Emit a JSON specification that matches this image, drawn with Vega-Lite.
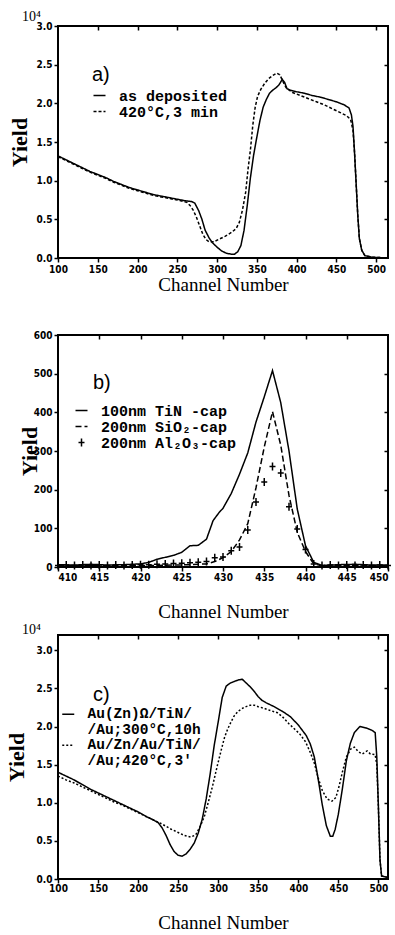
{
"$schema": "https://vega.github.io/schema/vega-lite/v6.json",
"padding": {"left": 4, "top": 9, "right": 5, "bottom": 0},
"spacing": 0,
"resolve": {"scale": {"strokeDash": "independent"}, "legend": {"strokeDash": "independent"}},
"config": {
  "view": {"stroke": "black", "strokeWidth": 2},
  "axis": {"domain": false, "grid": false, "tickColor": "black", "tickSize": 4, "tickWidth": 1.5, "labelFont": "Liberation Sans Narrow, DejaVu Sans Condensed, sans-serif", "labelFontWeight": "bold", "labelFontSize": 10, "labelColor": "black", "labelFlush": false, "labelOverlap": false, "titleColor": "black", "titleFont": "Liberation Serif", "titleFontSize": 19, "titleFontWeight": "normal"},
  "axisY": {"titleFontWeight": "bold", "titleFontSize": 22},
  "legend": {"labelFont": "Liberation Mono", "labelFontWeight": "bold", "labelFontSize": 15, "labelColor": "black", "labelLimit": 0, "titleFont": "Liberation Sans", "titleFontSize": 20, "titleFontWeight": "normal", "titleColor": "black", "symbolStrokeColor": "black", "symbolStrokeWidth": 1.5, "symbolSize": 144, "symbolType": "stroke", "rowPadding": 0, "padding": 0},
  "title": {"font": "Liberation Serif", "fontSize": 14, "fontWeight": "normal", "color": "black", "anchor": "start", "frame": "group", "dx": -36}
},
"vconcat": [
{
  "width": 330, "height": 232,
  "title": {"text": "10⁴", "offset": -3},
  "data": {"values": [
    {"ch":100,"y":1.32,"s":"as deposited"},{"ch":110,"y":1.27,"s":"as deposited"},{"ch":120,"y":1.22,"s":"as deposited"},{"ch":130,"y":1.17,"s":"as deposited"},{"ch":140,"y":1.12,"s":"as deposited"},{"ch":150,"y":1.08,"s":"as deposited"},{"ch":160,"y":1.04,"s":"as deposited"},{"ch":170,"y":0.99,"s":"as deposited"},{"ch":180,"y":0.95,"s":"as deposited"},{"ch":190,"y":0.91,"s":"as deposited"},{"ch":200,"y":0.88,"s":"as deposited"},{"ch":210,"y":0.85,"s":"as deposited"},{"ch":220,"y":0.82,"s":"as deposited"},{"ch":230,"y":0.80,"s":"as deposited"},{"ch":240,"y":0.78,"s":"as deposited"},{"ch":250,"y":0.76,"s":"as deposited"},{"ch":260,"y":0.74,"s":"as deposited"},{"ch":268,"y":0.73,"s":"as deposited"},{"ch":272,"y":0.71,"s":"as deposited"},{"ch":277,"y":0.61,"s":"as deposited"},{"ch":281,"y":0.50,"s":"as deposited"},{"ch":285,"y":0.36,"s":"as deposited"},{"ch":290,"y":0.26,"s":"as deposited"},{"ch":294,"y":0.20,"s":"as deposited"},{"ch":300,"y":0.14,"s":"as deposited"},{"ch":306,"y":0.09,"s":"as deposited"},{"ch":312,"y":0.06,"s":"as deposited"},{"ch":318,"y":0.05,"s":"as deposited"},{"ch":322,"y":0.05,"s":"as deposited"},{"ch":326,"y":0.08,"s":"as deposited"},{"ch":330,"y":0.16,"s":"as deposited"},{"ch":334,"y":0.36,"s":"as deposited"},{"ch":338,"y":0.68,"s":"as deposited"},{"ch":342,"y":1.04,"s":"as deposited"},{"ch":346,"y":1.33,"s":"as deposited"},{"ch":350,"y":1.56,"s":"as deposited"},{"ch":354,"y":1.78,"s":"as deposited"},{"ch":358,"y":1.95,"s":"as deposited"},{"ch":362,"y":2.05,"s":"as deposited"},{"ch":366,"y":2.13,"s":"as deposited"},{"ch":370,"y":2.17,"s":"as deposited"},{"ch":374,"y":2.20,"s":"as deposited"},{"ch":378,"y":2.24,"s":"as deposited"},{"ch":382,"y":2.31,"s":"as deposited"},{"ch":385,"y":2.27,"s":"as deposited"},{"ch":388,"y":2.19,"s":"as deposited"},{"ch":392,"y":2.17,"s":"as deposited"},{"ch":400,"y":2.15,"s":"as deposited"},{"ch":410,"y":2.13,"s":"as deposited"},{"ch":420,"y":2.10,"s":"as deposited"},{"ch":430,"y":2.08,"s":"as deposited"},{"ch":440,"y":2.05,"s":"as deposited"},{"ch":450,"y":2.02,"s":"as deposited"},{"ch":460,"y":1.98,"s":"as deposited"},{"ch":466,"y":1.94,"s":"as deposited"},{"ch":469,"y":1.85,"s":"as deposited"},{"ch":471,"y":1.70,"s":"as deposited"},{"ch":473,"y":1.35,"s":"as deposited"},{"ch":475,"y":0.95,"s":"as deposited"},{"ch":477,"y":0.55,"s":"as deposited"},{"ch":479,"y":0.25,"s":"as deposited"},{"ch":482,"y":0.10,"s":"as deposited"},{"ch":486,"y":0.03,"s":"as deposited"},{"ch":495,"y":0.01,"s":"as deposited"},{"ch":515,"y":0.0,"s":"as deposited"},
    {"ch":100,"y":1.31,"s":"420°C,3 min"},{"ch":110,"y":1.26,"s":"420°C,3 min"},{"ch":120,"y":1.21,"s":"420°C,3 min"},{"ch":130,"y":1.16,"s":"420°C,3 min"},{"ch":140,"y":1.11,"s":"420°C,3 min"},{"ch":150,"y":1.07,"s":"420°C,3 min"},{"ch":160,"y":1.03,"s":"420°C,3 min"},{"ch":170,"y":0.98,"s":"420°C,3 min"},{"ch":180,"y":0.94,"s":"420°C,3 min"},{"ch":190,"y":0.90,"s":"420°C,3 min"},{"ch":200,"y":0.87,"s":"420°C,3 min"},{"ch":210,"y":0.84,"s":"420°C,3 min"},{"ch":220,"y":0.81,"s":"420°C,3 min"},{"ch":230,"y":0.79,"s":"420°C,3 min"},{"ch":240,"y":0.77,"s":"420°C,3 min"},{"ch":250,"y":0.75,"s":"420°C,3 min"},{"ch":258,"y":0.73,"s":"420°C,3 min"},{"ch":262,"y":0.72,"s":"420°C,3 min"},{"ch":266,"y":0.68,"s":"420°C,3 min"},{"ch":270,"y":0.62,"s":"420°C,3 min"},{"ch":274,"y":0.53,"s":"420°C,3 min"},{"ch":278,"y":0.42,"s":"420°C,3 min"},{"ch":282,"y":0.31,"s":"420°C,3 min"},{"ch":286,"y":0.24,"s":"420°C,3 min"},{"ch":290,"y":0.21,"s":"420°C,3 min"},{"ch":296,"y":0.21,"s":"420°C,3 min"},{"ch":302,"y":0.24,"s":"420°C,3 min"},{"ch":310,"y":0.28,"s":"420°C,3 min"},{"ch":318,"y":0.33,"s":"420°C,3 min"},{"ch":324,"y":0.38,"s":"420°C,3 min"},{"ch":328,"y":0.46,"s":"420°C,3 min"},{"ch":332,"y":0.62,"s":"420°C,3 min"},{"ch":336,"y":0.85,"s":"420°C,3 min"},{"ch":339,"y":1.15,"s":"420°C,3 min"},{"ch":342,"y":1.40,"s":"420°C,3 min"},{"ch":345,"y":1.72,"s":"420°C,3 min"},{"ch":348,"y":1.95,"s":"420°C,3 min"},{"ch":351,"y":2.09,"s":"420°C,3 min"},{"ch":355,"y":2.18,"s":"420°C,3 min"},{"ch":360,"y":2.26,"s":"420°C,3 min"},{"ch":365,"y":2.32,"s":"420°C,3 min"},{"ch":370,"y":2.36,"s":"420°C,3 min"},{"ch":375,"y":2.39,"s":"420°C,3 min"},{"ch":379,"y":2.37,"s":"420°C,3 min"},{"ch":383,"y":2.28,"s":"420°C,3 min"},{"ch":387,"y":2.20,"s":"420°C,3 min"},{"ch":395,"y":2.14,"s":"420°C,3 min"},{"ch":405,"y":2.10,"s":"420°C,3 min"},{"ch":415,"y":2.06,"s":"420°C,3 min"},{"ch":425,"y":2.02,"s":"420°C,3 min"},{"ch":435,"y":1.98,"s":"420°C,3 min"},{"ch":445,"y":1.93,"s":"420°C,3 min"},{"ch":455,"y":1.88,"s":"420°C,3 min"},{"ch":463,"y":1.84,"s":"420°C,3 min"},{"ch":468,"y":1.79,"s":"420°C,3 min"},{"ch":471,"y":1.65,"s":"420°C,3 min"},{"ch":473,"y":1.35,"s":"420°C,3 min"},{"ch":475,"y":0.95,"s":"420°C,3 min"},{"ch":477,"y":0.55,"s":"420°C,3 min"},{"ch":479,"y":0.25,"s":"420°C,3 min"},{"ch":482,"y":0.10,"s":"420°C,3 min"},{"ch":486,"y":0.03,"s":"420°C,3 min"},{"ch":495,"y":0.01,"s":"420°C,3 min"},{"ch":515,"y":0.0,"s":"420°C,3 min"}
  ]},
  "layer": [
    {"mark": {"type": "line", "color": "black", "strokeWidth": 1.5},
     "encoding": {
       "x": {"field": "ch", "type": "quantitative", "scale": {"domain": [100, 515], "nice": false, "zero": false},
             "axis": {"orient": "bottom", "values": [100,150,200,250,300,350,400,450,500], "title": "Channel Number", "labelPadding": 2, "titlePadding": 1}},
       "y": {"field": "y", "type": "quantitative", "scale": {"domain": [0, 3], "nice": false, "zero": false},
             "axis": {"orient": "left", "values": [0,0.5,1,1.5,2,2.5,3], "format": ".1f", "title": "Yield", "labelPadding": 2, "titlePadding": 5}},
       "strokeDash": {"field": "s", "type": "nominal", "scale": {"domain": ["as deposited", "420°C,3 min"], "range": [[1,0],[3,2]]},
             "legend": {"title": "a)", "orient": "none", "legendX": 34, "legendY": 39, "titlePadding": 3, "labelOffset": 12}}
     }},
    {"mark": {"type": "line", "opacity": 0},
     "encoding": {
       "x": {"field": "ch", "type": "quantitative", "scale": {"domain": [100, 515], "nice": false, "zero": false},
             "axis": {"orient": "top", "values": [150,200,250,300,350,400,450,500], "labels": false, "title": null, "tickSize": -4}},
       "y": {"field": "y", "type": "quantitative", "scale": {"domain": [0, 3], "nice": false, "zero": false},
             "axis": {"orient": "right", "values": [0.5,1,1.5,2,2.5], "labels": false, "title": null, "tickSize": -4}},
       "detail": {"field": "s"}
     }}
  ],
  "resolve": {"axis": {"x": "independent", "y": "independent"}}
},
{
  "width": 330, "height": 232,
  "title": {"text": " ", "offset": 24, "fontSize": 10},
  "data": {"values": [
    {"ch":410,"y":6,"s":"100nm TiN -cap"},{"ch":412,"y":5,"s":"100nm TiN -cap"},{"ch":414,"y":7,"s":"100nm TiN -cap"},{"ch":416,"y":5,"s":"100nm TiN -cap"},{"ch":418,"y":6,"s":"100nm TiN -cap"},{"ch":420,"y":8,"s":"100nm TiN -cap"},{"ch":421,"y":12,"s":"100nm TiN -cap"},{"ch":422,"y":20,"s":"100nm TiN -cap"},{"ch":423,"y":25,"s":"100nm TiN -cap"},{"ch":424,"y":30,"s":"100nm TiN -cap"},{"ch":425,"y":38,"s":"100nm TiN -cap"},{"ch":426,"y":55,"s":"100nm TiN -cap"},{"ch":427,"y":56,"s":"100nm TiN -cap"},{"ch":428,"y":72,"s":"100nm TiN -cap"},{"ch":428.8,"y":120,"s":"100nm TiN -cap"},{"ch":429.5,"y":140,"s":"100nm TiN -cap"},{"ch":430,"y":152,"s":"100nm TiN -cap"},{"ch":431,"y":190,"s":"100nm TiN -cap"},{"ch":432,"y":240,"s":"100nm TiN -cap"},{"ch":433,"y":295,"s":"100nm TiN -cap"},{"ch":434,"y":375,"s":"100nm TiN -cap"},{"ch":435,"y":440,"s":"100nm TiN -cap"},{"ch":436,"y":508,"s":"100nm TiN -cap"},{"ch":437,"y":425,"s":"100nm TiN -cap"},{"ch":438,"y":300,"s":"100nm TiN -cap"},{"ch":439,"y":150,"s":"100nm TiN -cap"},{"ch":440,"y":55,"s":"100nm TiN -cap"},{"ch":441,"y":12,"s":"100nm TiN -cap"},{"ch":442,"y":4,"s":"100nm TiN -cap"},{"ch":444,"y":6,"s":"100nm TiN -cap"},{"ch":446,"y":7,"s":"100nm TiN -cap"},{"ch":448,"y":5,"s":"100nm TiN -cap"},{"ch":450,"y":5,"s":"100nm TiN -cap"},
    {"ch":410,"y":3,"s":"200nm SiO₂-cap"},{"ch":414,"y":3,"s":"200nm SiO₂-cap"},{"ch":418,"y":4,"s":"200nm SiO₂-cap"},{"ch":422,"y":4,"s":"200nm SiO₂-cap"},{"ch":426,"y":6,"s":"200nm SiO₂-cap"},{"ch":428,"y":8,"s":"200nm SiO₂-cap"},{"ch":429,"y":14,"s":"200nm SiO₂-cap"},{"ch":430,"y":24,"s":"200nm SiO₂-cap"},{"ch":431,"y":40,"s":"200nm SiO₂-cap"},{"ch":432,"y":70,"s":"200nm SiO₂-cap"},{"ch":433,"y":112,"s":"200nm SiO₂-cap"},{"ch":434,"y":205,"s":"200nm SiO₂-cap"},{"ch":435,"y":310,"s":"200nm SiO₂-cap"},{"ch":436,"y":402,"s":"200nm SiO₂-cap"},{"ch":437,"y":315,"s":"200nm SiO₂-cap"},{"ch":438,"y":185,"s":"200nm SiO₂-cap"},{"ch":439,"y":90,"s":"200nm SiO₂-cap"},{"ch":440,"y":40,"s":"200nm SiO₂-cap"},{"ch":441,"y":8,"s":"200nm SiO₂-cap"},{"ch":442,"y":3,"s":"200nm SiO₂-cap"},{"ch":446,"y":4,"s":"200nm SiO₂-cap"},{"ch":450,"y":3,"s":"200nm SiO₂-cap"},
    {"ch":410,"y":4,"s":"200nm Al₂O₃-cap"},{"ch":411,"y":5,"s":"200nm Al₂O₃-cap"},{"ch":412,"y":4,"s":"200nm Al₂O₃-cap"},{"ch":413,"y":5,"s":"200nm Al₂O₃-cap"},{"ch":414,"y":4,"s":"200nm Al₂O₃-cap"},{"ch":415,"y":5,"s":"200nm Al₂O₃-cap"},{"ch":416,"y":4,"s":"200nm Al₂O₃-cap"},{"ch":417,"y":5,"s":"200nm Al₂O₃-cap"},{"ch":418,"y":4,"s":"200nm Al₂O₃-cap"},{"ch":419,"y":5,"s":"200nm Al₂O₃-cap"},{"ch":420,"y":6,"s":"200nm Al₂O₃-cap"},{"ch":421,"y":6,"s":"200nm Al₂O₃-cap"},{"ch":422,"y":7,"s":"200nm Al₂O₃-cap"},{"ch":423,"y":8,"s":"200nm Al₂O₃-cap"},{"ch":424,"y":9,"s":"200nm Al₂O₃-cap"},{"ch":425,"y":10,"s":"200nm Al₂O₃-cap"},{"ch":426,"y":11,"s":"200nm Al₂O₃-cap"},{"ch":427,"y":12,"s":"200nm Al₂O₃-cap"},{"ch":428,"y":14,"s":"200nm Al₂O₃-cap"},{"ch":429,"y":24,"s":"200nm Al₂O₃-cap"},{"ch":430,"y":26,"s":"200nm Al₂O₃-cap"},{"ch":431,"y":42,"s":"200nm Al₂O₃-cap"},{"ch":432,"y":52,"s":"200nm Al₂O₃-cap"},{"ch":433,"y":96,"s":"200nm Al₂O₃-cap"},{"ch":434,"y":168,"s":"200nm Al₂O₃-cap"},{"ch":435,"y":220,"s":"200nm Al₂O₃-cap"},{"ch":436,"y":260,"s":"200nm Al₂O₃-cap"},{"ch":437,"y":243,"s":"200nm Al₂O₃-cap"},{"ch":438,"y":156,"s":"200nm Al₂O₃-cap"},{"ch":439,"y":98,"s":"200nm Al₂O₃-cap"},{"ch":440,"y":45,"s":"200nm Al₂O₃-cap"},{"ch":441,"y":8,"s":"200nm Al₂O₃-cap"},{"ch":442,"y":4,"s":"200nm Al₂O₃-cap"},{"ch":443,"y":5,"s":"200nm Al₂O₃-cap"},{"ch":444,"y":4,"s":"200nm Al₂O₃-cap"},{"ch":445,"y":5,"s":"200nm Al₂O₃-cap"},{"ch":446,"y":4,"s":"200nm Al₂O₃-cap"},{"ch":447,"y":5,"s":"200nm Al₂O₃-cap"},{"ch":448,"y":4,"s":"200nm Al₂O₃-cap"},{"ch":449,"y":5,"s":"200nm Al₂O₃-cap"},{"ch":450,"y":4,"s":"200nm Al₂O₃-cap"}
  ]},
  "layer": [
    {"transform": [{"filter": "datum.s !== '200nm Al₂O₃-cap'"}],
     "mark": {"type": "line", "color": "black", "strokeWidth": 1.5},
     "encoding": {
       "x": {"field": "ch", "type": "quantitative", "scale": {"domain": [410, 450], "nice": false, "zero": false},
             "axis": {"orient": "bottom", "values": [410,415,420,425,430,435,440,445,450], "title": "Channel Number", "labelPadding": 1, "titlePadding": 20, "labelFlush": true, "labelFlushOffset": 0}},
       "y": {"field": "y", "type": "quantitative", "scale": {"domain": [0, 600], "nice": false},
             "axis": {"orient": "left", "values": [0,100,200,300,400,500,600], "title": "Yield", "labelPadding": 2, "titlePadding": -8}},
       "strokeDash": {"field": "s", "type": "nominal", "scale": {"domain": ["100nm TiN -cap", "200nm SiO₂-cap", "200nm Al₂O₃-cap"], "range": [[1,0],[6,3],[1,0]]},
             "legend": {"title": "b)", "orient": "none", "legendX": 16, "legendY": 38, "titlePadding": 10, "labelOffset": 12,
               "encode": {
                 "symbols": {"update": {
                   "shape": {"signal": "datum.value === '200nm Al₂O₃-cap' ? 'M-0.75,0H0.75M0,-1V1' : 'stroke'"},
                   "size": {"signal": "datum.value === '200nm Al₂O₃-cap' ? 64 : 144"},
                   "fill": {"value": "transparent"},
                   "stroke": {"value": "black"}}},
                 "title": {"update": {"dx": {"value": 19}}}
               }}}
     }},
    {"transform": [{"filter": "datum.s === '200nm Al₂O₃-cap'"}],
     "mark": {"type": "point", "shape": "M-0.75,0H0.75M0,-1V1", "size": 64, "filled": false, "stroke": "black", "strokeWidth": 1.5, "opacity": 1},
     "encoding": {
       "x": {"field": "ch", "type": "quantitative", "scale": {"domain": [410, 450], "nice": false, "zero": false},
             "axis": {"orient": "top", "values": [415,420,425,430,435,440,445], "labels": false, "title": null, "tickSize": -4}},
       "y": {"field": "y", "type": "quantitative", "scale": {"domain": [0, 600], "nice": false},
             "axis": {"orient": "right", "values": [100,200,300,400,500], "labels": false, "title": null, "tickSize": -4}}
     }}
  ],
  "resolve": {"axis": {"x": "independent", "y": "independent"}}
},
{
  "width": 330, "height": 244,
  "title": {"text": "10⁴", "offset": -3},
  "data": {"values": [
    {"ch":100,"y":1.40,"s":"Au(Zn)Ω/TiN/|/Au;300°C,10h"},{"ch":110,"y":1.35,"s":"Au(Zn)Ω/TiN/|/Au;300°C,10h"},{"ch":120,"y":1.30,"s":"Au(Zn)Ω/TiN/|/Au;300°C,10h"},{"ch":130,"y":1.24,"s":"Au(Zn)Ω/TiN/|/Au;300°C,10h"},{"ch":140,"y":1.18,"s":"Au(Zn)Ω/TiN/|/Au;300°C,10h"},{"ch":150,"y":1.13,"s":"Au(Zn)Ω/TiN/|/Au;300°C,10h"},{"ch":160,"y":1.08,"s":"Au(Zn)Ω/TiN/|/Au;300°C,10h"},{"ch":170,"y":1.03,"s":"Au(Zn)Ω/TiN/|/Au;300°C,10h"},{"ch":180,"y":0.98,"s":"Au(Zn)Ω/TiN/|/Au;300°C,10h"},{"ch":190,"y":0.93,"s":"Au(Zn)Ω/TiN/|/Au;300°C,10h"},{"ch":200,"y":0.88,"s":"Au(Zn)Ω/TiN/|/Au;300°C,10h"},{"ch":210,"y":0.82,"s":"Au(Zn)Ω/TiN/|/Au;300°C,10h"},{"ch":218,"y":0.78,"s":"Au(Zn)Ω/TiN/|/Au;300°C,10h"},{"ch":225,"y":0.74,"s":"Au(Zn)Ω/TiN/|/Au;300°C,10h"},{"ch":230,"y":0.67,"s":"Au(Zn)Ω/TiN/|/Au;300°C,10h"},{"ch":235,"y":0.57,"s":"Au(Zn)Ω/TiN/|/Au;300°C,10h"},{"ch":240,"y":0.45,"s":"Au(Zn)Ω/TiN/|/Au;300°C,10h"},{"ch":245,"y":0.36,"s":"Au(Zn)Ω/TiN/|/Au;300°C,10h"},{"ch":250,"y":0.31,"s":"Au(Zn)Ω/TiN/|/Au;300°C,10h"},{"ch":255,"y":0.30,"s":"Au(Zn)Ω/TiN/|/Au;300°C,10h"},{"ch":260,"y":0.33,"s":"Au(Zn)Ω/TiN/|/Au;300°C,10h"},{"ch":265,"y":0.39,"s":"Au(Zn)Ω/TiN/|/Au;300°C,10h"},{"ch":270,"y":0.47,"s":"Au(Zn)Ω/TiN/|/Au;300°C,10h"},{"ch":275,"y":0.60,"s":"Au(Zn)Ω/TiN/|/Au;300°C,10h"},{"ch":280,"y":0.78,"s":"Au(Zn)Ω/TiN/|/Au;300°C,10h"},{"ch":285,"y":1.05,"s":"Au(Zn)Ω/TiN/|/Au;300°C,10h"},{"ch":290,"y":1.38,"s":"Au(Zn)Ω/TiN/|/Au;300°C,10h"},{"ch":295,"y":1.75,"s":"Au(Zn)Ω/TiN/|/Au;300°C,10h"},{"ch":300,"y":2.06,"s":"Au(Zn)Ω/TiN/|/Au;300°C,10h"},{"ch":305,"y":2.38,"s":"Au(Zn)Ω/TiN/|/Au;300°C,10h"},{"ch":310,"y":2.53,"s":"Au(Zn)Ω/TiN/|/Au;300°C,10h"},{"ch":315,"y":2.57,"s":"Au(Zn)Ω/TiN/|/Au;300°C,10h"},{"ch":320,"y":2.59,"s":"Au(Zn)Ω/TiN/|/Au;300°C,10h"},{"ch":325,"y":2.61,"s":"Au(Zn)Ω/TiN/|/Au;300°C,10h"},{"ch":330,"y":2.62,"s":"Au(Zn)Ω/TiN/|/Au;300°C,10h"},{"ch":335,"y":2.57,"s":"Au(Zn)Ω/TiN/|/Au;300°C,10h"},{"ch":340,"y":2.52,"s":"Au(Zn)Ω/TiN/|/Au;300°C,10h"},{"ch":345,"y":2.46,"s":"Au(Zn)Ω/TiN/|/Au;300°C,10h"},{"ch":350,"y":2.39,"s":"Au(Zn)Ω/TiN/|/Au;300°C,10h"},{"ch":355,"y":2.34,"s":"Au(Zn)Ω/TiN/|/Au;300°C,10h"},{"ch":360,"y":2.31,"s":"Au(Zn)Ω/TiN/|/Au;300°C,10h"},{"ch":370,"y":2.26,"s":"Au(Zn)Ω/TiN/|/Au;300°C,10h"},{"ch":380,"y":2.20,"s":"Au(Zn)Ω/TiN/|/Au;300°C,10h"},{"ch":390,"y":2.13,"s":"Au(Zn)Ω/TiN/|/Au;300°C,10h"},{"ch":400,"y":2.02,"s":"Au(Zn)Ω/TiN/|/Au;300°C,10h"},{"ch":410,"y":1.88,"s":"Au(Zn)Ω/TiN/|/Au;300°C,10h"},{"ch":415,"y":1.77,"s":"Au(Zn)Ω/TiN/|/Au;300°C,10h"},{"ch":420,"y":1.60,"s":"Au(Zn)Ω/TiN/|/Au;300°C,10h"},{"ch":425,"y":1.30,"s":"Au(Zn)Ω/TiN/|/Au;300°C,10h"},{"ch":430,"y":0.97,"s":"Au(Zn)Ω/TiN/|/Au;300°C,10h"},{"ch":435,"y":0.70,"s":"Au(Zn)Ω/TiN/|/Au;300°C,10h"},{"ch":440,"y":0.56,"s":"Au(Zn)Ω/TiN/|/Au;300°C,10h"},{"ch":443,"y":0.56,"s":"Au(Zn)Ω/TiN/|/Au;300°C,10h"},{"ch":446,"y":0.65,"s":"Au(Zn)Ω/TiN/|/Au;300°C,10h"},{"ch":450,"y":0.85,"s":"Au(Zn)Ω/TiN/|/Au;300°C,10h"},{"ch":455,"y":1.18,"s":"Au(Zn)Ω/TiN/|/Au;300°C,10h"},{"ch":460,"y":1.55,"s":"Au(Zn)Ω/TiN/|/Au;300°C,10h"},{"ch":465,"y":1.78,"s":"Au(Zn)Ω/TiN/|/Au;300°C,10h"},{"ch":470,"y":1.92,"s":"Au(Zn)Ω/TiN/|/Au;300°C,10h"},{"ch":477,"y":2.00,"s":"Au(Zn)Ω/TiN/|/Au;300°C,10h"},{"ch":485,"y":1.98,"s":"Au(Zn)Ω/TiN/|/Au;300°C,10h"},{"ch":492,"y":1.95,"s":"Au(Zn)Ω/TiN/|/Au;300°C,10h"},{"ch":496,"y":1.92,"s":"Au(Zn)Ω/TiN/|/Au;300°C,10h"},{"ch":498,"y":1.60,"s":"Au(Zn)Ω/TiN/|/Au;300°C,10h"},{"ch":500,"y":0.95,"s":"Au(Zn)Ω/TiN/|/Au;300°C,10h"},{"ch":502,"y":0.25,"s":"Au(Zn)Ω/TiN/|/Au;300°C,10h"},{"ch":504,"y":0.04,"s":"Au(Zn)Ω/TiN/|/Au;300°C,10h"},{"ch":512,"y":0.02,"s":"Au(Zn)Ω/TiN/|/Au;300°C,10h"},
    {"ch":100,"y":1.35,"s":"Au/Zn/Au/TiN/|/Au;420°C,3'"},{"ch":110,"y":1.30,"s":"Au/Zn/Au/TiN/|/Au;420°C,3'"},{"ch":120,"y":1.26,"s":"Au/Zn/Au/TiN/|/Au;420°C,3'"},{"ch":130,"y":1.21,"s":"Au/Zn/Au/TiN/|/Au;420°C,3'"},{"ch":140,"y":1.16,"s":"Au/Zn/Au/TiN/|/Au;420°C,3'"},{"ch":150,"y":1.11,"s":"Au/Zn/Au/TiN/|/Au;420°C,3'"},{"ch":160,"y":1.06,"s":"Au/Zn/Au/TiN/|/Au;420°C,3'"},{"ch":170,"y":1.01,"s":"Au/Zn/Au/TiN/|/Au;420°C,3'"},{"ch":180,"y":0.97,"s":"Au/Zn/Au/TiN/|/Au;420°C,3'"},{"ch":190,"y":0.92,"s":"Au/Zn/Au/TiN/|/Au;420°C,3'"},{"ch":200,"y":0.87,"s":"Au/Zn/Au/TiN/|/Au;420°C,3'"},{"ch":210,"y":0.82,"s":"Au/Zn/Au/TiN/|/Au;420°C,3'"},{"ch":220,"y":0.77,"s":"Au/Zn/Au/TiN/|/Au;420°C,3'"},{"ch":230,"y":0.72,"s":"Au/Zn/Au/TiN/|/Au;420°C,3'"},{"ch":240,"y":0.66,"s":"Au/Zn/Au/TiN/|/Au;420°C,3'"},{"ch":250,"y":0.61,"s":"Au/Zn/Au/TiN/|/Au;420°C,3'"},{"ch":258,"y":0.57,"s":"Au/Zn/Au/TiN/|/Au;420°C,3'"},{"ch":266,"y":0.55,"s":"Au/Zn/Au/TiN/|/Au;420°C,3'"},{"ch":272,"y":0.58,"s":"Au/Zn/Au/TiN/|/Au;420°C,3'"},{"ch":278,"y":0.70,"s":"Au/Zn/Au/TiN/|/Au;420°C,3'"},{"ch":283,"y":0.83,"s":"Au/Zn/Au/TiN/|/Au;420°C,3'"},{"ch":288,"y":1.02,"s":"Au/Zn/Au/TiN/|/Au;420°C,3'"},{"ch":293,"y":1.22,"s":"Au/Zn/Au/TiN/|/Au;420°C,3'"},{"ch":299,"y":1.49,"s":"Au/Zn/Au/TiN/|/Au;420°C,3'"},{"ch":304,"y":1.70,"s":"Au/Zn/Au/TiN/|/Au;420°C,3'"},{"ch":308,"y":1.86,"s":"Au/Zn/Au/TiN/|/Au;420°C,3'"},{"ch":312,"y":1.97,"s":"Au/Zn/Au/TiN/|/Au;420°C,3'"},{"ch":316,"y":2.06,"s":"Au/Zn/Au/TiN/|/Au;420°C,3'"},{"ch":320,"y":2.14,"s":"Au/Zn/Au/TiN/|/Au;420°C,3'"},{"ch":325,"y":2.20,"s":"Au/Zn/Au/TiN/|/Au;420°C,3'"},{"ch":332,"y":2.25,"s":"Au/Zn/Au/TiN/|/Au;420°C,3'"},{"ch":340,"y":2.28,"s":"Au/Zn/Au/TiN/|/Au;420°C,3'"},{"ch":345,"y":2.28,"s":"Au/Zn/Au/TiN/|/Au;420°C,3'"},{"ch":350,"y":2.26,"s":"Au/Zn/Au/TiN/|/Au;420°C,3'"},{"ch":357,"y":2.24,"s":"Au/Zn/Au/TiN/|/Au;420°C,3'"},{"ch":365,"y":2.21,"s":"Au/Zn/Au/TiN/|/Au;420°C,3'"},{"ch":374,"y":2.18,"s":"Au/Zn/Au/TiN/|/Au;420°C,3'"},{"ch":380,"y":2.13,"s":"Au/Zn/Au/TiN/|/Au;420°C,3'"},{"ch":388,"y":2.04,"s":"Au/Zn/Au/TiN/|/Au;420°C,3'"},{"ch":395,"y":1.97,"s":"Au/Zn/Au/TiN/|/Au;420°C,3'"},{"ch":402,"y":1.90,"s":"Au/Zn/Au/TiN/|/Au;420°C,3'"},{"ch":409,"y":1.80,"s":"Au/Zn/Au/TiN/|/Au;420°C,3'"},{"ch":415,"y":1.66,"s":"Au/Zn/Au/TiN/|/Au;420°C,3'"},{"ch":420,"y":1.52,"s":"Au/Zn/Au/TiN/|/Au;420°C,3'"},{"ch":425,"y":1.32,"s":"Au/Zn/Au/TiN/|/Au;420°C,3'"},{"ch":430,"y":1.16,"s":"Au/Zn/Au/TiN/|/Au;420°C,3'"},{"ch":436,"y":1.05,"s":"Au/Zn/Au/TiN/|/Au;420°C,3'"},{"ch":442,"y":1.02,"s":"Au/Zn/Au/TiN/|/Au;420°C,3'"},{"ch":447,"y":1.07,"s":"Au/Zn/Au/TiN/|/Au;420°C,3'"},{"ch":451,"y":1.22,"s":"Au/Zn/Au/TiN/|/Au;420°C,3'"},{"ch":455,"y":1.40,"s":"Au/Zn/Au/TiN/|/Au;420°C,3'"},{"ch":460,"y":1.60,"s":"Au/Zn/Au/TiN/|/Au;420°C,3'"},{"ch":466,"y":1.71,"s":"Au/Zn/Au/TiN/|/Au;420°C,3'"},{"ch":470,"y":1.73,"s":"Au/Zn/Au/TiN/|/Au;420°C,3'"},{"ch":475,"y":1.67,"s":"Au/Zn/Au/TiN/|/Au;420°C,3'"},{"ch":480,"y":1.64,"s":"Au/Zn/Au/TiN/|/Au;420°C,3'"},{"ch":486,"y":1.68,"s":"Au/Zn/Au/TiN/|/Au;420°C,3'"},{"ch":490,"y":1.64,"s":"Au/Zn/Au/TiN/|/Au;420°C,3'"},{"ch":496,"y":1.63,"s":"Au/Zn/Au/TiN/|/Au;420°C,3'"},{"ch":498,"y":1.50,"s":"Au/Zn/Au/TiN/|/Au;420°C,3'"},{"ch":500,"y":0.95,"s":"Au/Zn/Au/TiN/|/Au;420°C,3'"},{"ch":502,"y":0.25,"s":"Au/Zn/Au/TiN/|/Au;420°C,3'"},{"ch":504,"y":0.04,"s":"Au/Zn/Au/TiN/|/Au;420°C,3'"},{"ch":512,"y":0.02,"s":"Au/Zn/Au/TiN/|/Au;420°C,3'"}
  ]},
  "layer": [
    {"mark": {"type": "line", "color": "black", "strokeWidth": 1.5},
     "encoding": {
       "x": {"field": "ch", "type": "quantitative", "scale": {"domain": [100, 512], "nice": false, "zero": false},
             "axis": {"orient": "bottom", "values": [100,150,200,250,300,350,400,450,500], "title": "Channel Number", "labelPadding": 0, "titlePadding": 20}},
       "y": {"field": "y", "type": "quantitative", "scale": {"domain": [0, 3.2], "nice": false, "zero": false},
             "axis": {"orient": "left", "values": [0,0.5,1,1.5,2,2.5,3], "format": ".1f", "title": "Yield", "labelPadding": 2, "titlePadding": 8}},
       "strokeDash": {"field": "s", "type": "nominal", "scale": {"domain": ["Au(Zn)Ω/TiN/|/Au;300°C,10h", "Au/Zn/Au/TiN/|/Au;420°C,3'"], "range": [[1,0],[2,2]]},
             "legend": {"title": "c)", "orient": "none", "legendX": 3, "legendY": 50, "titlePadding": 2, "labelOffset": 12, "labelFontSize": 14.5,
               "labelExpr": "split(datum.label, '|')",
               "encode": {
                 "labels": {"update": {"lineHeight": {"value": 16}}},
                 "title": {"update": {"dx": {"value": 32}}}
               }}}
     }},
    {"mark": {"type": "line", "opacity": 0},
     "encoding": {
       "x": {"field": "ch", "type": "quantitative", "scale": {"domain": [100, 512], "nice": false, "zero": false},
             "axis": {"orient": "top", "values": [150,200,250,300,350,400,450,500], "labels": false, "title": null, "tickSize": -4}},
       "y": {"field": "y", "type": "quantitative", "scale": {"domain": [0, 3.2], "nice": false, "zero": false},
             "axis": {"orient": "right", "values": [0.5,1,1.5,2,2.5,3], "labels": false, "title": null, "tickSize": -4}},
       "detail": {"field": "s"}
     }}
  ],
  "resolve": {"axis": {"x": "independent", "y": "independent"}}
}
]
}
